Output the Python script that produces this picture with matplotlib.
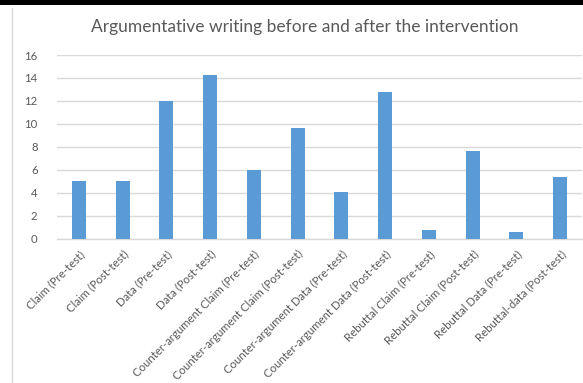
import matplotlib.pyplot as plt
import numpy as np

categories = ["Claim (Pre-test)", "Claim (Post-test)", "Data (Pre-test)", "Data (Post-test)",
              "Counter-argument Claim (Pre-test)", "Counter-argument Claim (Post-test)",
              "Counter-argument Data (Pre-test)", "Counter-argument Data (Post-test)",
              "Rebuttal Claim (Pre-test)", "Rebuttal Claim (Post-test)",
              "Rebuttal Data (Pre-test)", "Rebuttal-data (Post-test)"]
values = [5.0, 5.0, 12.0, 14.3, 6.0, 9.6, 4.1, 12.8, 0.75, 7.6, 0.58, 5.4]
yticks = [0, 2, 4, 6, 8, 10, 12, 14, 16]

plt.rcParams['font.family'] = ['Lato', 'DejaVu Sans']
txt = '#595959'

fig = plt.figure(figsize=(5.83, 3.83), dpi=100)
ax = fig.add_axes([57/583, 1-238.7/383, 525/583, 183.7/383])

x = np.arange(len(categories))
ax.bar(x, values, width=0.32, color='#5B9BD5', zorder=3)
ax.set_xlim(-0.5, len(categories)-0.5)
ax.set_ylim(0, 16)
ax.set_yticks(yticks)
ax.set_xticks(x)
ax.set_xticklabels(categories, rotation=45, ha='right', rotation_mode='anchor',
                   fontsize=8.2, color=txt)
ax.tick_params(axis='y', labelsize=8.2, colors=txt, length=0, pad=14)
ax.tick_params(axis='x', length=0, pad=7)
ax.grid(axis='y', color='#D9D9D9', linewidth=1, zorder=0)
for s in ['top', 'right', 'left']:
    ax.spines[s].set_visible(False)
ax.spines['bottom'].set_color('#D9D9D9')
ax.spines['bottom'].set_linewidth(1)

fig.text(305/583, 1-27/383, 'Argumentative writing before and after the intervention',
         ha='center', va='center', fontsize=12.5, color=txt)

# frame bits around the chart
fig.add_artist(plt.Rectangle((0, 1-4.5/383), 1, 4.5/383, transform=fig.transFigure,
                             color='black', lw=0))
fig.add_artist(plt.Line2D([11.5/583, 11.5/583], [0, 1-8/383], transform=fig.transFigure,
                          color='#D9D9D9', lw=1))

fig.savefig('out.png', dpi=100)
